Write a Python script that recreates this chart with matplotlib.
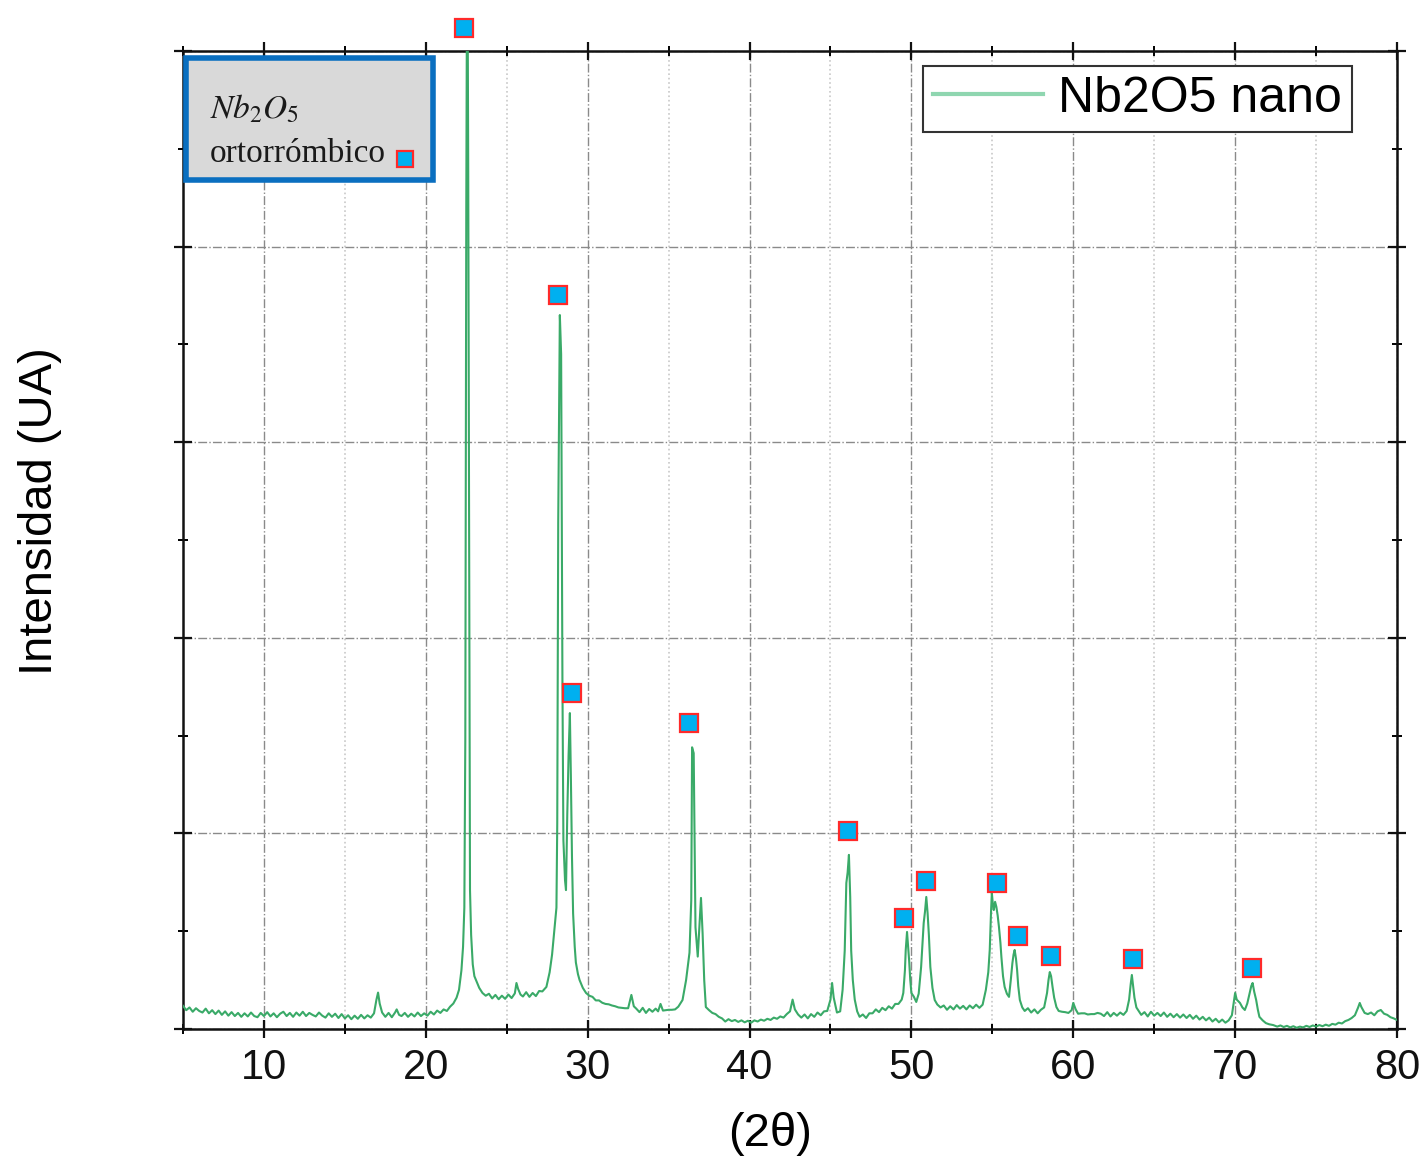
import numpy as np
import matplotlib
matplotlib.use("Agg")
import matplotlib.pyplot as plt
from matplotlib.lines import Line2D
from matplotlib.patches import Rectangle
from matplotlib.ticker import MultipleLocator, NullFormatter

plt.rcParams['font.family'] = ['Liberation Sans', 'DejaVu Sans']
plt.rcParams['mathtext.fontset'] = 'stix'

# XRD pattern, Nb2O5 nano (2theta, counts)
two_theta = [
    5.0, 5.2, 5.4, 5.6, 5.8, 6.0, 6.2, 6.4, 6.6, 6.8, 7.0, 7.2, 7.4, 7.6, 7.8,
    8.0, 8.2, 8.4, 8.6, 8.8, 9.0, 9.2, 9.4, 9.6, 9.8, 10.0, 10.2, 10.4, 10.6, 10.8,
    11.0, 11.2, 11.4, 11.6, 11.8, 12.0, 12.2, 12.4, 12.6, 12.8, 13.0, 13.2, 13.4, 13.6, 13.8,
    14.0, 14.2, 14.4, 14.6, 14.8, 15.0, 15.2, 15.4, 15.6, 15.8, 16.0, 16.2, 16.4, 16.6, 16.8,
    16.95, 17.05, 17.15, 17.3, 17.5, 17.7, 17.9, 18.1, 18.2, 18.35, 18.5, 18.7, 18.9, 19.1, 19.3,
    19.5, 19.7, 19.9, 20.1, 20.3, 20.5, 20.7, 20.9, 21.1, 21.3, 21.5, 21.7, 21.9, 22.05, 22.2,
    22.3, 22.38, 22.44, 22.5, 22.56, 22.62, 22.69, 22.73, 22.8, 22.9, 23.0, 23.1, 23.3, 23.5, 23.7,
    23.9, 24.1, 24.3, 24.5, 24.7, 24.9, 25.1, 25.3, 25.5, 25.6, 25.7, 25.85, 26.0, 26.2, 26.4,
    26.6, 26.8, 27.0, 27.2, 27.45, 27.65, 27.8, 27.94, 28.07, 28.12, 28.18, 28.28, 28.36, 28.44, 28.5,
    28.6, 28.66, 28.74, 28.82, 28.9, 28.96, 29.03, 29.1, 29.2, 29.27, 29.4, 29.5, 29.7, 29.9, 30.1,
    30.3, 30.5, 30.7, 30.9, 31.1, 31.3, 31.5, 31.7, 31.9, 32.1, 32.3, 32.5, 32.7, 32.85, 33.0,
    33.2, 33.4, 33.6, 33.8, 34.0, 34.2, 34.35, 34.5, 34.65, 34.85, 35.0, 35.2, 35.4, 35.6, 35.86,
    36.08, 36.29, 36.4, 36.45, 36.55, 36.66, 36.8, 36.9, 37.0, 37.1, 37.2, 37.3, 37.5, 37.7, 37.9,
    38.1, 38.3, 38.5, 38.7, 38.9, 39.1, 39.3, 39.5, 39.7, 39.9, 40.1, 40.3, 40.5, 40.7, 40.9,
    41.1, 41.3, 41.5, 41.7, 41.9, 42.1, 42.3, 42.5, 42.66, 42.8, 43.0, 43.2, 43.4, 43.6, 43.8,
    44.0, 44.2, 44.4, 44.6, 44.8, 45.0, 45.1, 45.2, 45.4, 45.6, 45.75, 45.88, 45.98, 46.06, 46.14,
    46.22, 46.28, 46.38, 46.5, 46.65, 46.8, 47.0, 47.2, 47.4, 47.6, 47.8, 48.0, 48.2, 48.4, 48.6,
    48.8, 49.0, 49.2, 49.4, 49.5, 49.6, 49.65, 49.73, 49.8, 49.86, 49.93, 50.0, 50.15, 50.3, 50.45,
    50.6, 50.76, 50.84, 50.92, 51.0, 51.08, 51.17, 51.3, 51.44, 51.6, 51.8, 52.0, 52.2, 52.4, 52.6,
    52.8, 53.0, 53.2, 53.4, 53.6, 53.8, 54.0, 54.2, 54.4, 54.6, 54.75, 54.84, 54.92, 54.97, 55.03,
    55.09, 55.17, 55.25, 55.33, 55.41, 55.5, 55.56, 55.66, 55.76, 55.9, 56.03, 56.14, 56.24, 56.31, 56.38,
    56.46, 56.53, 56.6, 56.7, 56.85, 57.0, 57.2, 57.4, 57.6, 57.8, 58.0, 58.2, 58.3, 58.38, 58.47,
    58.55, 58.63, 58.72, 58.82, 58.96, 59.1, 59.3, 59.5, 59.7, 59.9, 60.0, 60.15, 60.3, 60.5, 60.7,
    60.9, 61.1, 61.3, 61.5, 61.7, 61.9, 62.1, 62.3, 62.5, 62.7, 62.9, 63.1, 63.3, 63.45, 63.55,
    63.62, 63.7, 63.78, 63.9, 64.0, 64.2, 64.4, 64.6, 64.8, 65.0, 65.2, 65.4, 65.6, 65.8, 66.0,
    66.2, 66.4, 66.6, 66.8, 67.0, 67.2, 67.4, 67.6, 67.8, 68.0, 68.2, 68.4, 68.6, 68.8, 69.0,
    69.2, 69.4, 69.6, 69.8, 70.0, 70.1, 70.3, 70.45, 70.6, 70.75, 70.9, 71.0, 71.08, 71.18, 71.3,
    71.4, 71.5, 71.7, 71.9, 72.1, 72.35, 72.6, 72.8, 73.0, 73.2, 73.4, 73.6, 73.8, 74.0, 74.2,
    74.4, 74.6, 74.8, 75.0, 75.2, 75.4, 75.6, 75.8, 76.0, 76.2, 76.4, 76.6, 76.8, 77.0, 77.2,
    77.4, 77.6, 77.7, 77.8, 78.0, 78.2, 78.4, 78.6, 78.8, 79.0, 79.2, 79.4, 79.6, 79.8, 80.0,
]
counts = [
    118, 96, 110, 88, 106, 92, 84, 104, 80, 96, 76, 94, 72, 90, 68,
    86, 66, 82, 62, 80, 64, 84, 66, 60, 82, 66, 86, 64, 80, 60,
    78, 88, 66, 82, 62, 84, 68, 88, 66, 82, 72, 64, 84, 68, 58,
    80, 62, 78, 56, 76, 54, 70, 50, 68, 52, 72, 54, 70, 58, 80,
    150, 186, 130, 84, 62, 82, 60, 84, 100, 72, 66, 82, 62, 78, 64,
    84, 66, 80, 68, 88, 74, 94, 82, 100, 92, 114, 130, 160, 200, 300,
    420, 620, 1480, 4200, 5800, 4400, 2090, 710, 480, 330, 270, 250, 210, 184, 170,
    180, 156, 174, 152, 170, 154, 176, 158, 182, 235, 205, 176, 166, 188, 164,
    184, 168, 194, 192, 215, 290, 380, 505, 620, 1050, 2590, 3650, 3450, 1780, 965,
    760, 710, 1100, 1400, 1615, 1300, 880, 590, 420, 340, 280, 250, 210, 184, 170,
    164, 146, 146, 134, 128, 126, 120, 116, 110, 108, 106, 106, 174, 116, 104,
    86, 108, 82, 102, 88, 104, 90, 128, 94, 96, 98, 98, 100, 114, 148,
    250, 390, 660, 1440, 1410, 520, 370, 520, 670, 490, 250, 112, 96, 82, 76,
    62, 54, 38, 50, 40, 46, 36, 44, 34, 42, 32, 44, 38, 48, 42,
    52, 46, 58, 52, 64, 58, 76, 90, 150, 100, 74, 58, 74, 54, 76,
    62, 84, 70, 90, 92, 150, 235, 160, 84, 90, 200, 400, 746, 800, 890,
    675, 400, 250, 150, 90, 62, 74, 56, 80, 80, 100, 86, 108, 96, 116,
    104, 128, 128, 150, 184, 300, 404, 496, 420, 350, 250, 184, 165, 138, 180,
    317, 542, 600, 675, 593, 480, 317, 210, 148, 125, 110, 120, 98, 116, 100,
    122, 104, 118, 100, 120, 106, 124, 108, 124, 200, 290, 404, 600, 695, 640,
    608, 650, 624, 580, 521, 440, 368, 270, 215, 180, 164, 250, 337, 380, 404,
    360, 302, 220, 148, 110, 92, 106, 84, 100, 80, 98, 110, 150, 184, 250,
    291, 270, 215, 160, 112, 92, 88, 86, 82, 96, 133, 100, 78, 80, 80,
    74, 76, 76, 82, 78, 66, 86, 64, 82, 68, 84, 72, 92, 150, 230,
    276, 220, 160, 110, 97, 72, 86, 64, 88, 68, 82, 66, 84, 62, 78,
    60, 76, 58, 74, 56, 72, 52, 68, 48, 62, 44, 58, 38, 52, 34,
    48, 32, 44, 70, 184, 150, 133, 110, 97, 130, 184, 220, 235, 190, 148,
    100, 62, 44, 30, 24, 20, 12, 18, 10, 16, 8, 14, 6, 12, 8,
    16, 10, 18, 12, 20, 14, 22, 16, 26, 22, 32, 28, 40, 46, 56,
    70, 110, 133, 112, 82, 76, 84, 70, 90, 97, 78, 72, 60, 54, 46,
]

# orthorhombic Nb2O5 reflections (marker positions)
peak_2theta = [22.38, 28.19, 29.06, 36.29, 46.06, 49.53, 50.89, 55.28, 56.58, 58.62, 63.69, 71.05]
peak_mark = [5120, 3751, 1717, 1564, 1012, 567, 756, 746, 475, 373, 358, 312]

line_color = '#3aaa68'
sq_face = '#00b0f0'
sq_edge = '#ff2a2a'

fig = plt.figure(figsize=(14.21, 11.59), dpi=100)
ax = fig.add_axes([0.1288, 0.1122, 0.8543, 0.8438])

ax.plot(two_theta, counts, color=line_color, lw=1.5, zorder=3)
ax.plot(peak_2theta, peak_mark, ls='none', marker='s', ms=13,
        mfc=sq_face, mec=sq_edge, mew=1.6, clip_on=False, zorder=6)

ax.set_xlim(5, 80)
ax.set_ylim(0, 5000)
ax.xaxis.set_major_locator(MultipleLocator(10))
ax.xaxis.set_minor_locator(MultipleLocator(5))
ax.yaxis.set_major_locator(MultipleLocator(1000))
ax.yaxis.set_minor_locator(MultipleLocator(500))
ax.yaxis.set_major_formatter(NullFormatter())

ax.grid(which='major', axis='both', color='#8a8a8a', ls='-.', lw=1.0, zorder=0)
ax.grid(which='minor', axis='x', color='#c8c8c8', ls=':', lw=1.2, zorder=0)
ax.set_axisbelow(True)

for s in ax.spines.values():
    s.set_linewidth(1.8)
    s.set_color('#111111')

ax.tick_params(which='major', direction='inout', length=13, width=1.6,
               top=True, right=True, labelsize=30, pad=7, colors='#111111')
ax.tick_params(which='minor', direction='inout', length=7, width=1.4,
               top=True, right=True)

ax.set_xlabel('(2θ)', fontsize=34)
ax.xaxis.set_label_coords(0.4835, -0.085)
ax.set_ylabel('Intensidad (UA)', fontsize=34)
ax.yaxis.set_label_coords(-0.10, 0.53)

# legend with a lighter handle
handle = Line2D([], [], color='#8fd6b0', lw=3)
leg = ax.legend([handle], ['Nb2O5 nano'], loc='upper right',
                bbox_to_anchor=(0.963, 0.985), borderaxespad=0, fontsize=36,
                fancybox=False, framealpha=1, edgecolor='#333333',
                handlelength=2.2, handletextpad=0.3, borderpad=0.2)
leg.get_frame().set_linewidth(1.5)

# phase key in the upper-left corner
ax.add_patch(Rectangle((0.0025, 0.868), 0.2035, 0.1247, transform=ax.transAxes,
                       facecolor='#d9d9d9', edgecolor='#0a6fc0', lw=4, zorder=5,
                       clip_on=False))
ax.text(0.022, 0.940, r'$Nb_2O_5$', transform=ax.transAxes, fontsize=24,
        color='#1a1a1a', va='center', zorder=6)
ax.text(0.022, 0.895, 'ortorrómbico', transform=ax.transAxes, fontsize=24,
        family='Liberation Serif', color='#1a1a1a', va='center', zorder=6)
ax.plot([0.183], [0.890], transform=ax.transAxes, marker='s', ms=12,
        mfc=sq_face, mec=sq_edge, mew=1.6, ls='none', zorder=7, clip_on=False)

fig.savefig('out.png', dpi=100)
